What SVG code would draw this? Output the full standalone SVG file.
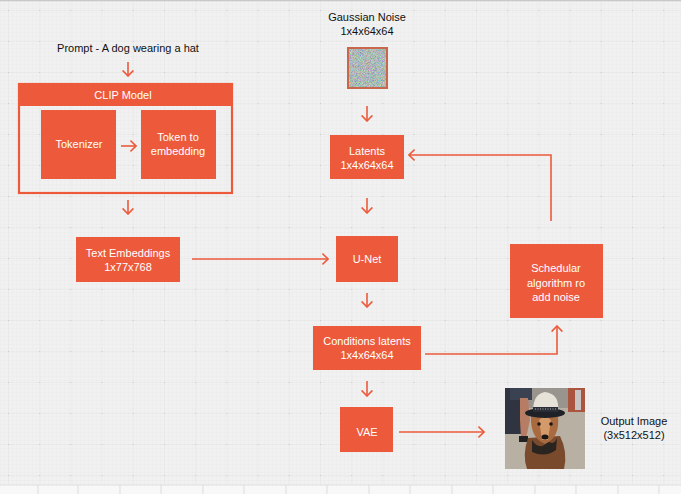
<svg xmlns="http://www.w3.org/2000/svg" width="681" height="494" viewBox="0 0 681 494">
<style>
.box{fill:#EC5A3B}
.wt{font-family:"Liberation Sans",Arial,sans-serif;font-size:11px;fill:#ffffff;text-anchor:middle}
.bt{font-family:"Liberation Sans",Arial,sans-serif;font-size:11px;fill:#111111;text-anchor:middle}
.ln{fill:none;stroke:#EC5A3B;stroke-width:1.6}
</style>
<defs>
<pattern id="fine" width="4" height="4" patternUnits="userSpaceOnUse">
<path d="M0,0 V4 M0,0 H4" stroke="#e6e6e6" stroke-width="0.6" fill="none"/>
</pattern>
<pattern id="major" x="8" y="10" width="31.2" height="31" patternUnits="userSpaceOnUse">
<path d="M0,0 V31 M0,0 H31.2" stroke="#dedede" stroke-width="0.7" fill="none"/>
<rect x="-0.8" y="-0.8" width="1.6" height="1.6" fill="#bdbdbd"/>
</pattern>
<marker id="ah" viewBox="0 0 7 12" markerWidth="7" markerHeight="12" refX="6.2" refY="6" orient="auto" markerUnits="userSpaceOnUse">
<path d="M0.6,0.6 L6.2,6 L0.6,11.4" fill="none" stroke="#EC5A3B" stroke-width="1.6"/>
</marker>
<filter id="noise" x="0" y="0" width="100%" height="100%">
<feTurbulence type="fractalNoise" baseFrequency="1.4" numOctaves="2" seed="5"/>
<feColorMatrix type="matrix" values="0.8 0 0 0 0.02  0 0.8 0 0 0.09  0 0 0.8 0 0.08  0 0 0 0 1"/>
</filter>
</defs>

<!-- background -->
<rect x="0" y="0" width="681" height="494" fill="#f1f1f1"/>
<rect x="0" y="0" width="681" height="485" fill="url(#fine)"/>
<rect x="0" y="0" width="681" height="485" fill="url(#major)"/>
<line x1="0" y1="0.5" x2="681" y2="0.5" stroke="#c8c8c8" stroke-width="1.5"/>
<rect x="0" y="485" width="681" height="9" fill="#f8f8f8"/>
<line x1="0" y1="485" x2="681" y2="485" stroke="#e0e0e0" stroke-width="1"/>
<path d="M38,485V494 M78,485V494 M120,485V494 M161,485V494 M203,485V494 M244,485V494 M286,485V494 M327,485V494 M369,485V494 M410,485V494 M452,485V494 M493,485V494 M535,485V494 M576,485V494 M618,485V494 M659,485V494" stroke="#dddddd" stroke-width="1"/>

<!-- connectors -->
<g id="connectors">
<line class="ln" x1="128" y1="62" x2="128" y2="76" marker-end="url(#ah)"/>
<line class="ln" x1="121" y1="146" x2="136" y2="146" marker-end="url(#ah)"/>
<line class="ln" x1="128" y1="200" x2="128" y2="214" marker-end="url(#ah)"/>
<line class="ln" x1="192" y1="259" x2="328" y2="259" marker-end="url(#ah)"/>
<line class="ln" x1="367" y1="106" x2="367" y2="121" marker-end="url(#ah)"/>
<line class="ln" x1="367" y1="198" x2="367" y2="213" marker-end="url(#ah)"/>
<line class="ln" x1="367" y1="293" x2="367" y2="307" marker-end="url(#ah)"/>
<line class="ln" x1="367" y1="381" x2="367" y2="396" marker-end="url(#ah)"/>
<polyline class="ln" points="551,221 551,155 409,155" marker-end="url(#ah)"/>
<polyline class="ln" points="425,354 557,354 557,326" marker-end="url(#ah)"/>
<line class="ln" x1="399" y1="432" x2="484" y2="432" marker-end="url(#ah)"/>
</g>

<!-- nodes -->
<g id="prompt"><text class="bt" x="128" y="52">Prompt - A dog wearing a hat</text></g>

<g id="clip">
<rect x="19" y="84" width="213" height="109" fill="none" stroke="#EC5A3B" stroke-width="2.2"/>
<rect class="box" x="18" y="83" width="215" height="23"/>
<text class="wt" x="123" y="99">CLIP Model</text>
</g>
<g id="tokenizer">
<rect class="box" x="41" y="110" width="75" height="69"/>
<text class="wt" x="79" y="148">Tokenizer</text>
</g>
<g id="token-embedding">
<rect class="box" x="141" y="110" width="75" height="69"/>
<text class="wt" x="178" y="141">Token to</text>
<text class="wt" x="178" y="155">embedding</text>
</g>

<g id="text-embeddings">
<rect class="box" x="76" y="237" width="104" height="45"/>
<text class="wt" x="128" y="257">Text Embeddings</text>
<text class="wt" x="128" y="271">1x77x768</text>
</g>

<g id="gaussian-noise">
<text class="bt" x="367" y="21">Gaussian Noise</text>
<text class="bt" x="367" y="35">1x4x64x64</text>
<rect x="347" y="47" width="41" height="42" fill="#C9664C"/>
<rect x="349" y="49" width="37" height="38" fill="#888" filter="url(#noise)"/>
</g>

<g id="latents">
<rect class="box" x="330" y="135" width="74" height="44"/>
<text class="wt" x="367" y="155">Latents</text>
<text class="wt" x="367" y="169">1x4x64x64</text>
</g>

<g id="unet">
<rect class="box" x="336" y="236" width="62" height="46"/>
<text class="wt" x="367" y="263">U-Net</text>
</g>

<g id="scheduler">
<rect class="box" x="510" y="244" width="93" height="74"/>
<text class="wt" x="556" y="272">Schedular</text>
<text class="wt" x="556" y="287">algorithm ro</text>
<text class="wt" x="556" y="301">add noise</text>
</g>

<g id="conditions-latents">
<rect class="box" x="313" y="326" width="108" height="44"/>
<text class="wt" x="367" y="345">Conditions latents</text>
<text class="wt" x="367" y="359">1x4x64x64</text>
</g>

<g id="vae">
<rect class="box" x="340" y="407" width="53" height="45"/>
<text class="wt" x="367" y="436">VAE</text>
</g>

<g id="output-image">
<rect x="505" y="388" width="80" height="81" fill="#b8b0a3"/>
<rect x="505" y="388" width="80" height="20" fill="#9a948e"/>
<rect x="568" y="388" width="17" height="24" fill="#a9553f"/>
<rect x="575" y="390" width="6" height="20" fill="#c9c4c4"/>
<rect x="505" y="388" width="18" height="46" fill="#2f3440"/>
<rect x="510" y="388" width="22" height="12" fill="#3a4252"/>
<path d="M520,398 L528,398 L530,420 L526,438 L521,438 L520,420Z" fill="#b77d64"/>
<path d="M519,436 L528,436 L528,442 L519,442Z" fill="#222"/>
<path d="M528,438 Q522,455 527,469 L564,469 Q568,452 560,436Z" fill="#7a4a2c"/>
<path d="M532,440 Q540,452 548,441 Q554,446 557,438 L556,450 Q545,458 532,452Z" fill="#2a2420"/>
<path d="M531,416 Q530,438 545,444 Q560,438 558,416 Q545,410 531,416Z" fill="#a86a3e"/>
<path d="M539,420 Q545,414 551,420 L548,440 L542,440Z" fill="#d49a6a"/>
<ellipse cx="545" cy="437" rx="3.5" ry="2.5" fill="#1a1614"/>
<circle cx="539" cy="424" r="1.8" fill="#1a1614"/>
<circle cx="551" cy="424" r="1.8" fill="#1a1614"/>
<ellipse cx="545" cy="413" rx="20" ry="5" fill="#1e2228"/>
<path d="M533,411 Q533,394 545,392 Q560,394 558,411Z" fill="#e6e2d8"/>
<path d="M533,407 L558,407 L558,412 L533,412Z" fill="#2a2e36"/>
<path d="M535,409 L556,409" stroke="#d8d8d8" stroke-width="0.8" stroke-dasharray="1,1.5"/>
</g>
<g id="output-label">
<text class="bt" x="634" y="425">Output Image</text>
<text class="bt" x="634" y="439">(3x512x512)</text>
</g>
</svg>
